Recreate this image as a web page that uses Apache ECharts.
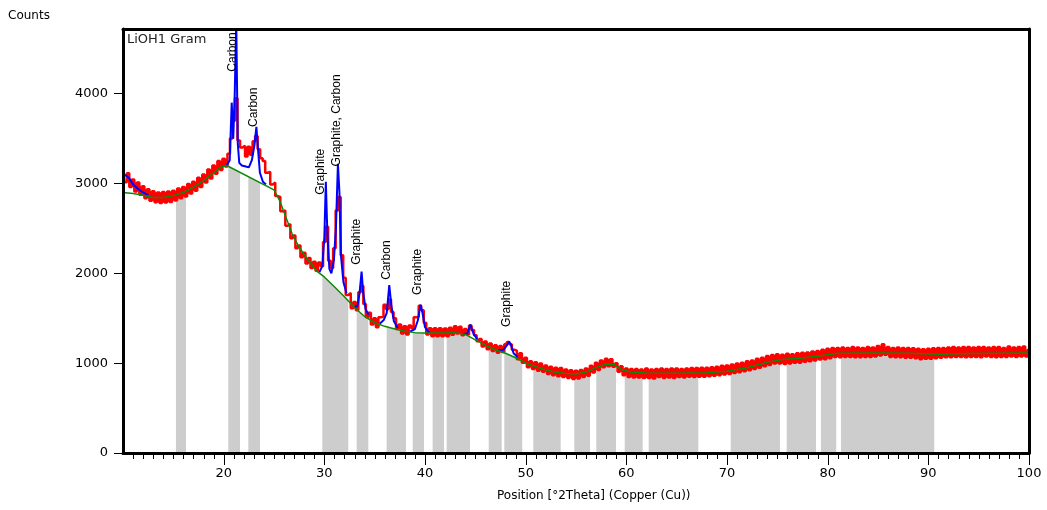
<!DOCTYPE html>
<html><head><meta charset="utf-8">
<script src="https://cdn.jsdelivr.net/npm/echarts@6/dist/echarts.min.js"></script>
<style>html,body{margin:0;padding:0;background:#fff}#c{width:1047px;height:510px}</style>
</head><body><div id="c"></div>
<script>
// Observed counts, sampled from 10 to 100 °2Theta every 0.25°
const obsStart = 10, obsStep = 0.25;
const observed = [
3140,3015,3115,2960, 3045,2910,3010,2875, 2970,2835,2935,2808, 2915,2790,2900,2782,
2905,2788,2910,2795, 2920,2810,2945,2835, 2960,2855,2995,2890, 3020,2920,3065,2960,
3100,3010,3155,3055, 3200,3110,3250,3150, 3275,3190,3330,3500, 3700,3950,3480,3400,
3420,3300,3410,3320, 3470,3530,3380,3280, 3250,3120,3130,2990, 3010,2860,2850,2690,
2700,2530,2550,2390, 2420,2280,2310,2180, 2230,2110,2170,2060, 2130,2030,2120,2080,
2350,2520,2140,2060, 2280,2700,2850,2200, 1950,1760,1780,1610, 1680,1590,1790,1860,
1660,1510,1560,1430, 1500,1400,1510,1520, 1650,1600,1710,1570, 1500,1380,1430,1330,
1410,1320,1420,1390, 1510,1520,1640,1590, 1450,1320,1390,1300, 1390,1300,1390,1300,
1385,1300,1395,1315, 1410,1330,1405,1310, 1380,1320,1420,1370, 1310,1245,1270,1185,
1240,1155,1220,1135, 1200,1115,1190,1125, 1210,1235,1210,1150, 1140,1045,1110,1005,
1060,955,1020,935, 1010,915,995,905, 975,880,960,865, 950,855,945,845,
930,835,920,825, 915,830,925,845, 940,860,970,895, 1005,925,1030,955,
1050,965,1045,960, 1000,905,965,865, 940,845,935,840, 935,840,930,835,
940,835,930,830, 935,845,940,835, 935,840,940,835, 940,845,935,840,
940,850,945,845, 945,850,950,850, 950,855,955,860, 960,865,970,875,
975,880,985,890, 995,900,1005,910, 1020,920,1030,935, 1050,950,1060,965,
1080,980,1090,995, 1100,995,1095,990, 1105,995,1100,1005, 1110,1005,1115,1015,
1120,1020,1130,1030, 1135,1040,1150,1045, 1160,1055,1170,1070, 1170,1065,1175,1070,
1170,1070,1180,1065, 1175,1065,1170,1070, 1180,1070,1175,1075, 1190,1085,1210,1095,
1180,1070,1170,1065, 1175,1065,1170,1060, 1170,1060,1165,1055, 1160,1045,1155,1050,
1160,1050,1165,1055, 1170,1060,1170,1065, 1175,1065,1180,1070, 1175,1070,1180,1065,
1180,1070,1175,1070, 1180,1065,1180,1075, 1175,1070,1180,1065, 1180,1070,1170,1070,
1185,1075,1175,1070, 1180,1075,1185,1075, 1150
];

// Fitted background [°2Theta, counts]
const background = [
[10,2900],[11,2890],[12,2870],[13,2845],[14,2845],[15,2865],[16,2900],[17,2960],[18,3030],
[19,3120],[19.7,3180],[20.3,3200],[25.0,2930],[25.6,2800],[26.2,2620],[26.8,2440],[27.5,2290],
[28.3,2160],[29.3,2020],[30,1960],[31,1850],[32,1740],[33,1620],[34,1520],[35,1450],[36,1410],
[37,1380],[38,1355],[39,1340],[40,1335],[41.5,1335],[43,1340],[44,1320],[45,1260],[46,1200],
[47,1150],[48,1110],[49,1060],[50,1000],[51,960],[52,925],[53,900],[54,885],[55,880],[56,900],
[57,950],[58,990],[58.8,985],[59.5,930],[60.5,900],[62,890],[65,888],[68,892],[70,910],[72,950],
[74,1010],[75.5,1040],[77.5,1058],[79.5,1085],[81,1110],[85,1112],[88,1110],[91,1100],[94,1108],[100,1112]
];

// Calculated profile around the peaks [°2Theta, counts]
const profileSegments = [
[[10,3100],[10.3,3090],[10.6,3060],[11,2990],[11.5,2940],[12,2900],[12.5,2870]],
[[20.3,3200],[20.6,3260],[20.8,3900],[20.95,3500],[21.1,4000],[21.25,4800],[21.4,3450],[21.55,3230],
 [21.8,3200],[22.2,3190],[22.5,3180],[22.8,3260],[23.05,3420],[23.25,3630],[23.4,3400],[23.6,3120],[23.9,3020],[24.2,2990]],
[[29.5,2010],[29.8,2080],[30.0,2400],[30.15,3020],[30.3,2450],[30.5,2050],[30.7,2000],[30.95,2150],
 [31.15,2500],[31.35,3220],[31.5,2900],[31.65,2200],[31.9,1900],[32.2,1780]],
[[33.0,1620],[33.3,1640],[33.5,1780],[33.7,2020],[33.85,1800],[34.1,1600],[34.4,1540]],
[[35.5,1440],[35.9,1480],[36.2,1560],[36.45,1870],[36.65,1650],[36.9,1470],[37.3,1390]],
[[38.5,1350],[39.0,1380],[39.3,1480],[39.55,1650],[39.75,1560],[40.0,1400],[40.4,1340]],
[[43.8,1325],[44.2,1330],[44.5,1430],[44.65,1420],[44.85,1320],[45.2,1270]],
[[47.3,1140],[47.8,1150],[48.15,1200],[48.35,1240],[48.55,1200],[48.8,1110],[49.2,1070]]
];

// Shaded background regions [from, to] in °2Theta
const bgRanges = [
[15.26,16.26],[20.46,21.62],[22.45,23.61],[29.80,32.38],[33.21,34.37],[36.19,38.11],[38.78,39.90],
[40.76,41.89],[42.15,44.47],[46.33,47.62],[47.88,49.66],[50.76,53.48],[54.83,56.39],[57.02,58.97],
[59.84,61.62],[62.22,67.15],[70.37,75.26],[75.93,78.84],[79.33,80.85],[81.32,90.59]
];

// Phase labels
const peakNames = ['Carbon','Carbon','Graphite','Graphite, Carbon','Graphite','Carbon','Graphite','Graphite'];
const peakLabelX = [20.85,22.95,29.6,31.2,33.25,36.22,39.3,48.15];
const peakLabelY = [4245,3630,2875,3190,2095,1928,1760,1404];

// Axis ticks
const xMajorTicks = [20,30,40,50,60,70,80,90,100];
const xMinorStep = 1;
const yTicks = [0,1000,2000,3000,4000];

const obsData = observed.map((v,i)=>[obsStart + i*obsStep, v]);
const xTickMarks = [];
for (let v = 11; v < 100; v += xMinorStep) { if (v % 10 !== 0) xTickMarks.push([v, 0]); }
xMajorTicks.forEach(v => xTickMarks.push([v, 1]));

function bgAt(x){
  for(let i=0;i<background.length-1;i++){
    const a=background[i], b=background[i+1];
    if(x>=a[0] && x<=b[0]) return a[1] + (b[1]-a[1])*(x-a[0])/(b[0]-a[0]);
  }
  return background[background.length-1][1];
}

const FONT = '"DejaVu Sans", Verdana, sans-serif';
const chart = echarts.init(document.getElementById('c'), null, {renderer:'canvas'});
const series = [];
series.push({
  type:'custom', silent:true, z:1, clip:true,
  data: bgRanges,
  encode:{x:[0,1]},
  renderItem(params, api){
    const x0=api.value(0), x1=api.value(1);
    const pts=[api.coord([x0,0]), api.coord([x0,bgAt(x0)])];
    background.forEach(p=>{ if(p[0]>x0 && p[0]<x1) pts.push(api.coord(p)); });
    pts.push(api.coord([x1,bgAt(x1)]));
    pts.push(api.coord([x1,0]));
    return {type:'polygon', shape:{points:pts}, style:{fill:'#cdcdcd'}};
  }
});
series.push({type:'line', data:obsData, symbol:'none', showSymbol:false, step:'middle', z:2, silent:true,
  lineStyle:{color:'#ff0000', width:2.5}});
profileSegments.forEach(seg=>series.push({type:'line', data:seg, symbol:'none', showSymbol:false, z:3, silent:true,
  lineStyle:{color:'#0000ff', width:2}}));
series.push({type:'line', data:background, symbol:'none', showSymbol:false, z:4, silent:true,
  lineStyle:{color:'#0a8a0a', width:1.5}});
series.push({
  type:'custom', silent:true, z:5, clip:false,
  data: peakLabelX.map((x,i)=>[x, peakLabelY[i], i]),
  renderItem(params, api){
    const p = api.coord([api.value(0), api.value(1)]);
    return {type:'text', x:p[0], y:p[1], rotation:Math.PI/2,
      style:{text: peakNames[api.value(2)], fill:'#000', font:'12px "Liberation Sans", Arial, sans-serif',
        align:'left', verticalAlign:'middle'}};
  }
});
// x-axis tick marks below the frame
series.push({
  type:'custom', silent:true, z:20, clip:false,
  data: xTickMarks,
  renderItem(params, api){
    const p = api.coord([api.value(0), 0]);
    const len = api.value(1) ? 12 : 6;
    const x = Math.round(p[0]) + 0.5;
    return {type:'line', shape:{x1:x, y1:p[1], x2:x, y2:p[1]+len}, style:{stroke:'#000', lineWidth:1}};
  }
});

const frameAxis = {show:true, axisLine:{show:true, onZero:false, lineStyle:{color:'#000', width:3}},
  axisTick:{show:false}, axisLabel:{show:false}, splitLine:{show:false}};

chart.setOption({
  animation:false,
  backgroundColor:'#fff',
  title:[
    {text:'Counts', left:8, top:10, padding:0, textStyle:{fontFamily:FONT, fontSize:12, fontWeight:'normal', color:'#000'}},
    {text:'LiOH1 Gram', left:127, top:33, padding:0, textStyle:{fontFamily:FONT, fontSize:13, fontWeight:'normal', color:'#222'}},
    {text:'Position [°2Theta] (Copper (Cu))', left:497, top:490, padding:0, textStyle:{fontFamily:FONT, fontSize:12, fontWeight:'normal', color:'#000'}}
  ],
  grid:{left:123, right:18, top:29, bottom:57, show:false},
  xAxis:[
    {type:'value', min:10, max:100, interval:10, position:'bottom', z:10,
      axisLine:{show:true, onZero:false, lineStyle:{color:'#000', width:3}},
      axisTick:{show:false},
      minorTick:{show:false},
      axisLabel:{show:true, customValues:xMajorTicks, margin:14, fontFamily:FONT, fontSize:13, color:'#000'},
      splitLine:{show:false}, minorSplitLine:{show:false}},
    Object.assign({type:'value', min:10, max:100, position:'top', z:10}, frameAxis)
  ],
  yAxis:[
    {type:'value', min:0, max:4720, position:'left', z:10,
      axisLine:{show:true, onZero:false, lineStyle:{color:'#000', width:3}},
      axisTick:{show:true, inside:false, length:9, lineStyle:{color:'#000', width:1}, customValues:yTicks},
      axisLabel:{customValues:yTicks, margin:15, fontFamily:FONT, fontSize:13, color:'#000', formatter:v=>String(v)},
      splitLine:{show:false}},
    Object.assign({type:'value', min:0, max:4720, position:'right', z:10}, frameAxis)
  ],
  series
});
</script></body></html>
